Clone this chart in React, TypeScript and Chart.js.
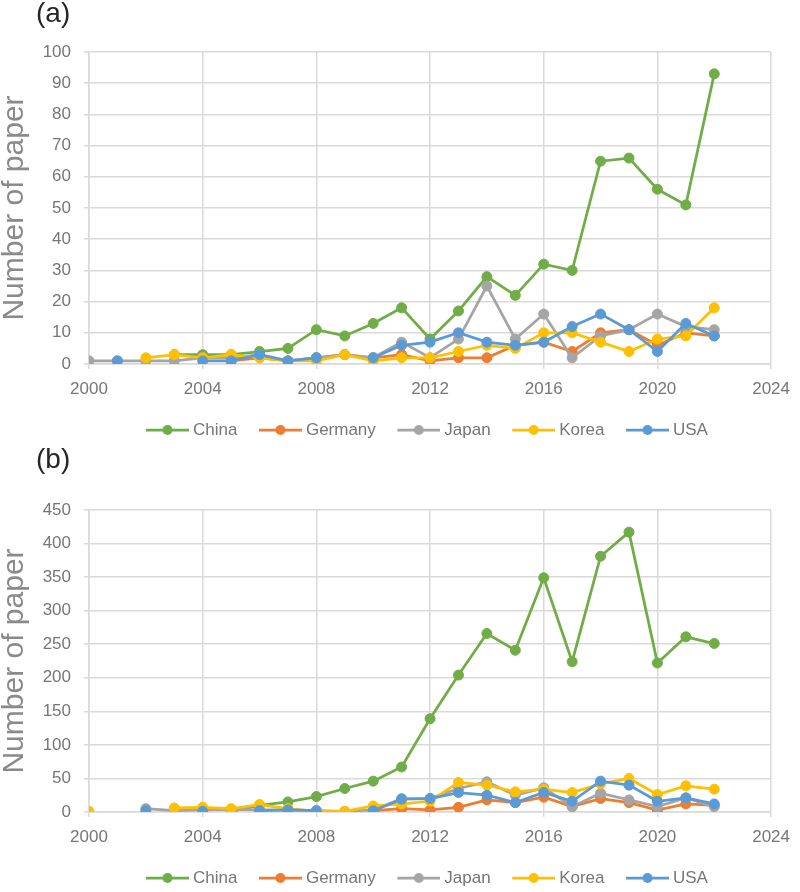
import React, { useEffect, useRef } from 'react';
import { Chart, registerables } from 'chart.js';

Chart.register(...registerables);

// ---------- data ----------
const years = [2000, 2001, 2002, 2003, 2004, 2005, 2006, 2007, 2008, 2009, 2010, 2011, 2012, 2013, 2014, 2015, 2016, 2017, 2018, 2019, 2020, 2021, 2022];
const xTickValues = [2000, 2004, 2008, 2012, 2016, 2020, 2024];
const yTicksA = [0, 10, 20, 30, 40, 50, 60, 70, 80, 90, 100];
const yTicksB = [0, 50, 100, 150, 200, 250, 300, 350, 400, 450];

const seriesNames = ['China', 'Germany', 'Japan', 'Korea', 'USA'];
const seriesColors = ['#70AD47', '#ED7D31', '#A5A5A5', '#FFC000', '#5B9BD5'];

// panel (a)
const chinaA = [null, null, null, 3, 3, 3, 4, 5, 11, 9, 13, 18, 8, 17, 28, 22, 32, 30, 65, 66, 56, 51, 93];
const germanyA = [null, null, null, null, null, 1, 2, 1, 2, 3, 2, 3, 1, 2, 2, 6, 7, 4, 10, 11, 6, 10, 9];
const japanA = [1, 1, 1, 1, 2, 2, 3, 1, 2, 3, 2, 7, 2, 8, 25, 8, 16, 2, 9, 11, 16, 12, 11];
const koreaA = [null, null, 2, 3, 2, 3, 2, 1, 1, 3, 1, 2, 2, 4, 6, 5, 10, 10, 7, 4, 8, 9, 18];
const usaA = [null, 1, null, null, 1, 1, 3, 1, 2, null, 2, 6, 7, 10, 7, 6, 7, 12, 16, 11, 4, 13, 9];

// panel (b)
const chinaB = [null, null, null, null, null, 1, 10, 15, 23, 35, 46, 67, 139, 204, 266, 241, 349, 224, 381, 417, 222, 261, 251];
const germanyB = [null, null, null, null, null, null, null, null, null, null, 2, 5, 3, 7, 18, 14, 22, 8, 20, 14, 3, 12, 10];
const japanB = [null, null, 5, 2, 3, 4, 3, 3, 2, 1, 3, 20, 20, 35, 45, 25, 36, 8, 28, 18, 8, 21, 8];
const koreaB = [1, null, null, 6, 7, 5, 11, 5, 1, 1, 9, 12, 16, 44, 40, 30, 34, 29, 42, 50, 26, 39, 34];
const usaB = [null, null, 2, null, 1, null, 2, 3, 2, null, 2, 19, 20, 29, 25, 14, 29, 16, 46, 40, 16, 21, 12];

const FONT = "'Liberation Sans', Arial, sans-serif";
const TICK_COLOR = '#767676';
const GRID_COLOR = '#d9d9d9';

function makeMarker(color: string) {
  const c = document.createElement('canvas');
  c.width = 65;
  c.height = 12;
  const g = c.getContext('2d') as CanvasRenderingContext2D;
  g.strokeStyle = color;
  g.lineWidth = 2.75;
  g.beginPath();
  g.moveTo(22, 6);
  g.lineTo(65, 6);
  g.stroke();
  g.fillStyle = color;
  g.beginPath();
  g.arc(43.5, 6, 5, 0, Math.PI * 2);
  g.fill();
  return c;
}

const legendPlace = {
  id: 'legendPlace',
  afterLayout(chart: any, _args: any, opts: any) {
    const l = chart.legend;
    if (!l || !l.lineWidths) return;
    const pad = l.options.labels.padding;
    const curX = (l.left + pad + l.right - l.lineWidths[0]) / 2;
    const dx = opts.startX - curX;
    const curY = l.top + pad + 17 / 2;
    const dy = opts.textY - curY;
    l.left += dx;
    l.right += dx;
    l.top += dy;
    l.bottom += dy;
  },
};

function buildConfig(series: (number | null)[][], yTicks: number[], padding: any, legendTextY: number): any {
  const markers = seriesColors.map(makeMarker);
  const datasets = series.map((arr, i) => ({
    label: seriesNames[i],
    data: years.map((yr, j) => ({ x: yr, y: arr[j] })),
    borderColor: seriesColors[i],
    backgroundColor: seriesColors[i],
    pointBackgroundColor: seriesColors[i],
    pointBorderColor: seriesColors[i],
    pointBorderWidth: 1,
    pointRadius: 5,
    borderWidth: 2.75,
    tension: 0,
    spanGaps: false,
    order: series.length - 1 - i,
  }));
  return {
    type: 'line',
    data: { datasets },
    plugins: [legendPlace],
    options: {
      animation: false,
      responsive: false,
      layout: { padding },
      scales: {
        x: {
          type: 'linear',
          min: xTickValues[0],
          max: xTickValues[xTickValues.length - 1],
          afterBuildTicks: (s: any) => {
            s.ticks = xTickValues.map((v) => ({ value: v }));
          },
          grid: { color: GRID_COLOR, lineWidth: 1.5, drawTicks: true, tickLength: 5 },
          border: { color: GRID_COLOR, width: 1.5 },
          ticks: {
            color: TICK_COLOR,
            font: { size: 17, family: FONT },
            padding: 10,
            maxRotation: 0,
            callback: (v: any) => String(v),
          },
        },
        y: {
          type: 'linear',
          min: yTicks[0],
          max: yTicks[yTicks.length - 1],
          afterBuildTicks: (s: any) => {
            s.ticks = yTicks.map((v) => ({ value: v }));
          },
          afterFit: (s: any) => {
            s.width = 89;
          },
          grid: { color: GRID_COLOR, lineWidth: 1.5, drawTicks: true, tickLength: 5 },
          border: { color: GRID_COLOR, width: 1.5 },
          ticks: {
            color: TICK_COLOR,
            font: { size: 17, family: FONT },
            padding: 13,
            callback: (v: any) => String(v),
          },
          title: {
            display: true,
            text: 'Number of paper',
            color: '#8a8a8a',
            font: { size: 30, family: FONT, lineHeight: 1 },
            padding: 0,
          },
        },
      },
      plugins: {
        legendPlace: { startX: 128.5, textY: legendTextY },
        legend: {
          position: 'bottom',
          labels: {
            usePointStyle: true,
            pointStyleWidth: 56,
            padding: 4,
            color: TICK_COLOR,
            font: { size: 17, family: FONT },
            sort: (a: any, b: any) => a.datasetIndex - b.datasetIndex,
            generateLabels: (chart: any) => {
              const items = Chart.defaults.plugins.legend.labels.generateLabels(chart);
              return items.map((it: any) => ({ ...it, pointStyle: markers[it.datasetIndex], lineWidth: 0 }));
            },
          },
        },
        tooltip: { enabled: false },
      },
    },
  };
}

function ChartPanel({ series, yTicks, padding, legendTextY }: any) {
  const ref = useRef<HTMLCanvasElement | null>(null);
  useEffect(() => {
    if (!ref.current) return;
    const chart = new Chart(ref.current, buildConfig(series, yTicks, padding, legendTextY));
    return () => chart.destroy();
  }, []);
  return <canvas ref={ref} width={800} height={446} style={{ display: 'block', width: 800, height: 446 }} />;
}

export default function App() {
  const labelStyle: React.CSSProperties = {
    position: 'absolute',
    left: 36,
    fontFamily: FONT,
    fontSize: 28,
    lineHeight: '28px',
    color: '#262626',
  };
  return (
    <div style={{ position: 'absolute', left: 0, top: 0, width: 800, height: 892, background: '#fff', overflow: 'hidden' }}>
      <div style={{ position: 'absolute', left: 0, top: 0, width: 800, height: 446 }}>
        <ChartPanel
          series={[chinaA, germanyA, japanA, koreaA, usaA]}
          yTicks={yTicksA}
          padding={{ top: 52, right: 26, bottom: 5.6, left: 0 }}
          legendTextY={430}
        />
      </div>
      <div style={{ position: 'absolute', left: 0, top: 446, width: 800, height: 446 }}>
        <ChartPanel
          series={[chinaB, germanyB, japanB, koreaB, usaB]}
          yTicks={yTicksB}
          padding={{ top: 64, right: 26, bottom: 3.6, left: 0 }}
          legendTextY={432}
        />
      </div>
      <div style={{ ...labelStyle, top: -1 }}>(a)</div>
      <div style={{ ...labelStyle, top: 445 }}>(b)</div>
    </div>
  );
}
